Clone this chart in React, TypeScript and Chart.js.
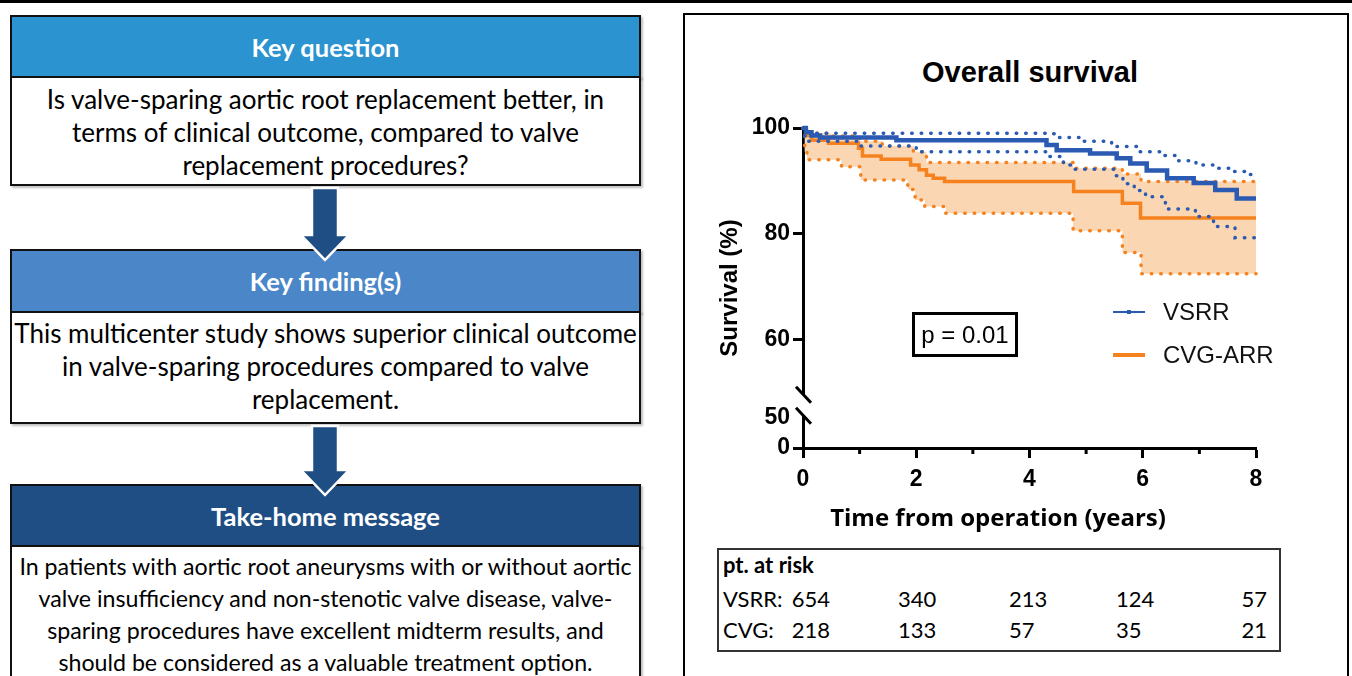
import React, { useEffect, useRef } from 'react';
import { Chart, registerables } from 'chart.js';

Chart.register(...registerables);

// ---------- data ----------
const xTicks = [0, 2, 4, 6, 8];
const xMinorTicks = [1, 3, 5, 7];
const yTicks = [100, 80, 60, 50, 0];

const vsrrTime = [0, 0.05, 0.15, 0.3, 1.65, 4.3, 4.48, 5.07, 5.54, 5.78, 6.07, 6.43, 6.9, 7.28, 7.66, 8];
const vsrrSurv = [100, 99.2, 98.6, 98.2, 97.7, 96.8, 95.8, 95.2, 94.3, 93.3, 92.0, 90.5, 89.6, 88.3, 86.7, 86.7];

const vsrrUpperTime = [0, 0.1, 4.3, 4.5, 4.9, 5.45, 5.9, 6.3, 6.6, 6.94, 7.3, 7.6, 7.85, 8];
const vsrrUpperSurv = [100, 99.0, 98.9, 98.2, 97.5, 96.5, 95.5, 94.8, 93.8, 93.0, 92.4, 91.8, 91.2, 91.2];

const vsrrLowerTime = [0, 0.03, 0.08, 1.0, 2.0, 4.3, 4.6, 4.75, 5.5, 5.65, 5.85, 6.05, 6.4, 6.93, 7.25, 7.63, 8];
const vsrrLowerSurv = [100, 98.5, 97.5, 96.6, 95.5, 94.6, 93.0, 92.2, 91.0, 89.5, 88.2, 87.0, 84.7, 83.3, 81.4, 79.3, 79.3];

const cvgTime = [0, 0.05, 0.15, 0.45, 0.98, 1.05, 1.38, 1.9, 2.05, 2.18, 2.3, 2.5, 4.78, 5.64, 5.96, 8];
const cvgSurv = [100, 98.6, 97.7, 97.1, 96.2, 94.7, 94.1, 93.0, 92.1, 91.1, 90.5, 89.9, 88.0, 85.8, 83.0, 83.0];

const cvgUpperTime = [0, 0.1, 0.5, 1.0, 1.4, 1.95, 2.18, 4.77, 5.64, 5.97, 8];
const cvgUpperSurv = [100, 99.0, 98.5, 97.5, 96.6, 95.5, 93.5, 92.4, 91.3, 89.9, 89.9];

const cvgLowerTime = [0, 0.03, 0.07, 0.68, 1.02, 1.85, 1.98, 2.15, 2.52, 4.77, 5.64, 5.97, 8];
const cvgLowerSurv = [100, 95.5, 94.0, 92.7, 90.2, 88.4, 86.4, 85.2, 83.9, 80.6, 76.5, 72.5, 72.5];

const riskLabels = ['VSRR:', 'CVG:'];
const riskVSRR = [654, 340, 213, 124, 57];
const riskCVG = [218, 133, 57, 35, 21];

// ---------- style ----------
const BLUE = '#2B5AB3';
const ORANGE = '#F5821F';
const PEACH = '#FBD6B2';
const DARK = '#1F4E84';
const SANS = "'Liberation Sans', Arial, sans-serif";
const CAL = "Lato, 'Open Sans', sans-serif";

// broken y axis: true value -> axis coordinate
const AXIS_ZERO = 39.6;
const AXIS_FIFTY = 45.3;
const toAxis = (v: number) =>
  v >= 60 ? v : v >= 50 ? AXIS_FIFTY + ((v - 50) * (60 - AXIS_FIFTY)) / 10 : AXIS_ZERO + (v * (AXIS_FIFTY - AXIS_ZERO)) / 50;
const pts = (t: number[], s: number[]) => t.map((x, i) => ({ x, y: toAxis(s[i]) }));

const axisExtras = {
  id: 'axisExtras',
  afterDraw(chart: any) {
    const { ctx, chartArea, scales } = chart;
    const x = scales.x;
    const y = scales.y;
    ctx.save();
    // minor x ticks
    ctx.strokeStyle = '#000';
    ctx.lineWidth = 3;
    for (const v of xMinorTicks) {
      const px = x.getPixelForValue(v);
      ctx.beginPath();
      ctx.moveTo(px, chartArea.bottom);
      ctx.lineTo(px, chartArea.bottom + 6);
      ctx.stroke();
    }
    // axis break
    const x0 = chartArea.left;
    const yLow = y.getPixelForValue(toAxis(50)) - 2;
    const yHigh = yLow - 21;
    ctx.fillStyle = '#fff';
    ctx.fillRect(x0 - 3, yHigh, 6, yLow - yHigh);
    for (const c of [yHigh, yLow]) {
      ctx.beginPath();
      ctx.moveTo(x0 - 7, c - 8);
      ctx.lineTo(x0 + 8, c + 8);
      ctx.stroke();
    }
    ctx.restore();
  },
};

function KMChart() {
  const ref = useRef<HTMLCanvasElement>(null);
  useEffect(() => {
    if (!ref.current) return;
    const dotted = (color: string) => ({
      borderColor: color,
      borderWidth: 3.5,
      borderDash: [0.5, 9],
      borderCapStyle: 'round' as const,
    });
    const common = { stepped: true, pointRadius: 0, pointHoverRadius: 0, clip: false as const, fill: false as any };
    const chart = new Chart(ref.current, {
      type: 'line',
      data: {
        datasets: [
          { ...common, label: 'VSRR', data: pts(vsrrTime, vsrrSurv), borderColor: BLUE, borderWidth: 4.5 },
          { ...common, label: 'VSRR upper', data: pts(vsrrUpperTime, vsrrUpperSurv), ...dotted(BLUE) },
          { ...common, label: 'VSRR lower', data: pts(vsrrLowerTime, vsrrLowerSurv), ...dotted(BLUE) },
          { ...common, label: 'CVG-ARR', data: pts(cvgTime, cvgSurv), borderColor: ORANGE, borderWidth: 3.5 },
          { ...common, label: 'CVG upper', data: pts(cvgUpperTime, cvgUpperSurv), ...dotted(ORANGE), fill: '+1', backgroundColor: PEACH },
          { ...common, label: 'CVG lower', data: pts(cvgLowerTime, cvgLowerSurv), ...dotted(ORANGE) },
        ],
      },
      options: {
        animation: false,
        responsive: false,
        devicePixelRatio: 1,
        layout: { padding: { left: 0, top: 114, right: 90, bottom: 0 } },
        plugins: {
          legend: { display: false },
          tooltip: { enabled: false },
          filler: { drawTime: 'beforeDatasetsDraw' },
        },
        scales: {
          x: {
            type: 'linear',
            min: 0,
            max: 8,
            afterBuildTicks: (s: any) => {
              s.ticks = xTicks.map((v) => ({ value: v }));
            },
            afterFit: (s: any) => {
              s.height = 96;
            },
            grid: { drawOnChartArea: false, drawTicks: true, tickLength: 10, tickWidth: 3, tickColor: '#000' },
            border: { display: true, color: '#000', width: 3 },
            ticks: {
              color: '#000',
              font: { family: SANS, size: 23, weight: 'bold' },
              padding: 8,
              maxRotation: 0,
              autoSkip: false,
              callback: (v: any) => String(v),
            },
          },
          y: {
            type: 'linear',
            min: toAxis(0),
            max: 100,
            afterBuildTicks: (s: any) => {
              s.ticks = yTicks.map((v) => ({ value: toAxis(v) }));
            },
            afterFit: (s: any) => {
              s.width = 117;
            },
            grid: {
              drawOnChartArea: false,
              drawTicks: true,
              tickLength: 10,
              tickWidth: 3,
              tickColor: (c: any) => (yTicks[c.index] === 50 ? 'rgba(0,0,0,0)' : '#000'),
            },
            border: { display: true, color: '#000', width: 3 },
            ticks: {
              color: '#000',
              font: { family: SANS, size: 23, weight: 'bold' },
              padding: 3,
              autoSkip: false,
              callback: (_v: any, i: number) => String(yTicks[i]),
            },
            title: {
              display: true,
              text: 'Survival (%)',
              color: '#000',
              font: { family: SANS, size: 24, weight: 'bold' },
              padding: { top: 30, bottom: 0 },
            },
          },
        },
      },
      plugins: [axisExtras],
    });
    return () => chart.destroy();
  }, []);
  return <canvas ref={ref} width={660} height={530} style={{ position: 'absolute', left: 686, top: 14, width: 660, height: 530 }} />;
}

function Box(props: { top: number; headH: number; bodyH: number; color: string; title: string; lines: string[]; lh: number; padTop: number; size: number }) {
  const { top, headH, bodyH, color, title, lines, lh, padTop, size } = props;
  return (
    <>
      <div
        style={{
          position: 'absolute', left: 10, top, width: 631, height: headH, boxSizing: 'border-box',
          border: '2px solid #111', background: color, color: '#fff', display: 'flex', alignItems: 'center',
          justifyContent: 'center', font: `bold 25.5px ${CAL}`, boxShadow: '2px 2px 2px rgba(0,0,0,0.25)',
        }}
      >
        {title}
      </div>
      <div
        style={{
          position: 'absolute', left: 10, top: top + headH - 2, width: 631, height: bodyH + 2, boxSizing: 'border-box',
          border: '2px solid #111', background: '#fff', color: '#000', textAlign: 'center',
          font: `${size}px ${CAL}`, lineHeight: `${lh}px`, paddingTop: padTop, boxShadow: '2px 2px 2px rgba(0,0,0,0.25)',
          whiteSpace: 'nowrap',
        }}
      >
        {lines.map((l, i) => (
          <div key={i}>{l}</div>
        ))}
      </div>
    </>
  );
}

function Arrow({ y0, y1 }: { y0: number; y1: number }) {
  const cx = 325;
  const headTop = y1 - 25;
  const d = `M ${cx - 13} ${y0} L ${cx + 13} ${y0} L ${cx + 13} ${headTop} L ${cx + 24} ${headTop} L ${cx} ${y1} L ${cx - 24} ${headTop} L ${cx - 13} ${headTop} Z`;
  return <path d={d} fill={DARK} stroke="#fff" strokeWidth={2.5} strokeLinejoin="miter" />;
}

export default function App() {
  const colX = [830, 898, 1009, 1116, 1267];
  const colAlign = ['right', 'left', 'left', 'left', 'right'];
  const rows = [riskVSRR, riskCVG];
  const rowY = [599, 630];
  return (
    <div style={{ position: 'absolute', left: 0, top: 0, width: 1352, height: 676, overflow: 'hidden', background: '#fff' }}>
      <div style={{ position: 'absolute', left: 0, top: 0, width: 1352, height: 3, background: '#000' }} />

      <Box
        top={15}
        headH={63}
        bodyH={108}
        color="#2B93CF"
        title="Key question"
        lines={['Is valve-sparing aortic root replacement better, in', 'terms of clinical outcome, compared to valve', 'replacement procedures?']}
        lh={33}
        padTop={5}
        size={26}
      />
      <Box
        top={249}
        headH={64}
        bodyH={111}
        color="#4A86C8"
        title="Key finding(s)"
        lines={['This multicenter study shows superior clinical outcome', 'in valve-sparing procedures compared to valve', 'replacement.']}
        lh={33}
        padTop={4}
        size={26}
      />
      <Box
        top={484}
        headH={63}
        bodyH={140}
        color={DARK}
        title="Take-home message"
        lines={[
          'In patients with aortic root aneurysms with or without aortic',
          'valve insufficiency and non-stenotic valve disease, valve-',
          'sparing procedures have excellent midterm results, and',
          'should be considered as a valuable treatment option.',
        ]}
        lh={32}
        padTop={3}
        size={23.2}
      />
      <svg width={1352} height={676} style={{ position: 'absolute', left: 0, top: 0 }}>
        <Arrow y0={188} y1={260} />
        <Arrow y0={426} y1={495} />
      </svg>

      <div style={{ position: 'absolute', left: 683, top: 13, width: 666, height: 700, boxSizing: 'border-box', border: '2px solid #000' }} />
      <div style={{ position: 'absolute', left: 686, top: 58, width: 688, textAlign: 'center', font: `bold 29px ${SANS}`, lineHeight: '29px', color: '#000' }}>
        Overall survival
      </div>
      <KMChart />
      <div style={{ position: 'absolute', left: 798, top: 505, width: 400, textAlign: 'center', font: `bold 24px 'Open Sans', sans-serif`, lineHeight: '24px', color: '#000', whiteSpace: 'nowrap' }}>
        Time from operation (years)
      </div>

      {/* legend */}
      <div style={{ position: 'absolute', left: 1113, top: 311, width: 32, height: 2, background: BLUE }} />
      <div style={{ position: 'absolute', left: 1127, top: 310, width: 4, height: 4, background: BLUE }} />
      <div style={{ position: 'absolute', left: 1163, top: 300, font: `24px ${SANS}`, lineHeight: '24px', color: '#111' }}>VSRR</div>
      <div style={{ position: 'absolute', left: 1113, top: 353, width: 32, height: 4, background: ORANGE }} />
      <div style={{ position: 'absolute', left: 1163, top: 343, font: `24px ${SANS}`, lineHeight: '24px', color: '#111' }}>CVG-ARR</div>

      {/* p value */}
      <div
        style={{
          position: 'absolute', left: 912, top: 312, width: 106, height: 45, boxSizing: 'border-box', border: '3px solid #000',
          display: 'flex', alignItems: 'center', justifyContent: 'center', font: `24px ${SANS}`, color: '#000',
        }}
      >
        p = 0.01
      </div>

      {/* numbers at risk */}
      <div style={{ position: 'absolute', left: 717, top: 548, width: 564, height: 104, boxSizing: 'border-box', border: '2px solid #333' }} />
      <div style={{ position: 'absolute', left: 723, top: 553, font: `bold 22px ${CAL}`, lineHeight: '24px', color: '#000' }}>pt. at risk</div>
      {rows.map((r, ri) => (
        <React.Fragment key={ri}>
          <div style={{ position: 'absolute', left: 723, top: rowY[ri] - 12, font: `22px ${CAL}`, lineHeight: '24px', color: '#000' }}>{riskLabels[ri]}</div>
          {r.map((v, ci) => (
            <div
              key={ci}
              style={{
                position: 'absolute', top: rowY[ri] - 12, font: `22px ${CAL}`, lineHeight: '24px', color: '#000',
                ...(colAlign[ci] === 'right' ? { right: 1352 - colX[ci] } : { left: colX[ci] }),
              }}
            >
              {v}
            </div>
          ))}
        </React.Fragment>
      ))}
    </div>
  );
}
